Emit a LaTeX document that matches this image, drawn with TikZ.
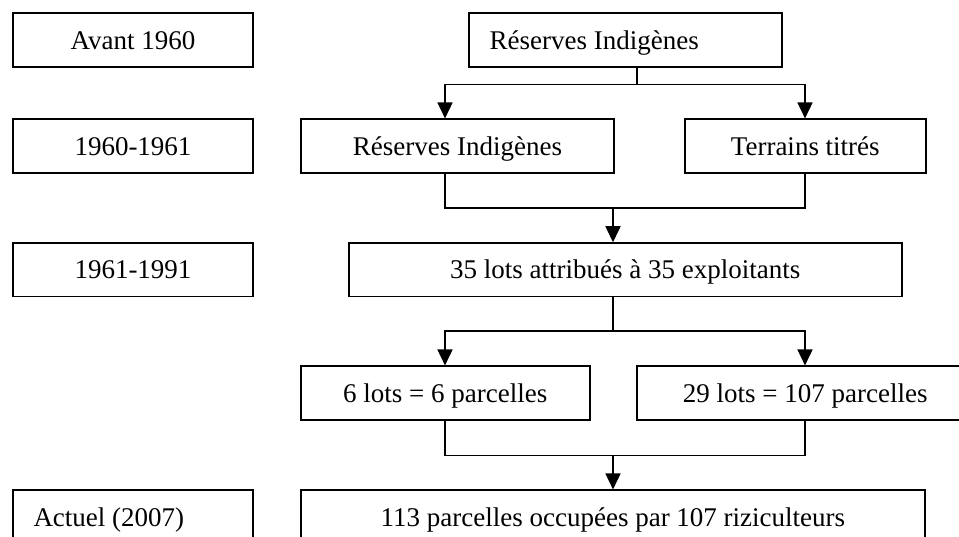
\documentclass[tikz,border=0pt]{standalone}
\usepackage{fontspec}
\setmainfont{Liberation Serif}
\usetikzlibrary{arrows.meta}

\tikzset{
  box/.style={draw, line width=1.7pt, rectangle, inner sep=0pt,
    minimum height=53.4pt, text height=18.2pt, text depth=0pt},
  leftbox/.style={box, align=flush left, inner xsep=20.5pt},
  link/.style={line width=1.6pt},
  arr/.style={link, -{Triangle[length=16pt, width=15pt]}},
}

\begin{document}
\begin{tikzpicture}[x=1pt, y=-1pt,
    font=\fontsize{27}{30}\selectfont]
  \useasboundingbox (0,0) rectangle (959,537);
  \fill[white] (0,0) rectangle (959,537);
  \clip (0,0) rectangle (959,537);

  % period labels (left column)
  \node[box, minimum width=240pt] (avant)  at (133,40)    {Avant 1960};
  \node[box, minimum width=240pt] (p1960)  at (133,146)   {1960-1961};
  \node[box, minimum width=240pt] (p1961)  at (133,269.8) {1961-1991};
  \node[leftbox, text width=199pt] (actuel) at (133,517)  {Actuel (2007)};

  % land status boxes
  \node[leftbox, inner xsep=21pt, text width=271pt] (ri0) at (625.2,40) {Réserves Indigènes};
  \node[box, minimum width=313.3pt] (ri1)  at (457.4,146)   {Réserves Indigènes};
  \node[box, minimum width=240.7pt] (tt)   at (805.3,146)   {Terrains titrés};
  \node[box, minimum width=553pt]   (lots) at (625.2,269.8) {35 lots attribués à 35 exploitants};
  \node[box, minimum width=289pt, minimum height=54pt] (p6)  at (445.2,393.3) {6 lots = 6 parcelles};
  \node[box, minimum width=337pt, minimum height=54pt] (p29) at (805.2,393.3) {29 lots = 107 parcelles};
  \node[box, minimum width=624.3pt] (now)  at (612.9,517)   {113 parcelles occupées par 107 riziculteurs};

  % connector columns and junctions
  \coordinate (xl) at (445,0);
  \coordinate (xr) at (805,0);
  \coordinate (s0) at (637,84.7);
  \coordinate (m2) at (613,208);
  \coordinate (s3) at (613,331.3);
  \coordinate (m4) at (613,455.3);

  % before 1960 -> 1960-1961
  \draw[link] (ri0.south -| s0) -- (s0);
  \draw[arr] (s0) -| (ri1.north -| xl);
  \draw[arr] (s0) -| (tt.north -| xr);

  % 1960-1961 -> 1961-1991
  \draw[link] (ri1.south -| xl) |- (m2) -| (tt.south -| xr);
  \draw[arr] (m2) -- (lots.north -| m2);

  % 1961-1991 -> split of the lots
  \draw[link] (lots.south -| s3) -- (s3);
  \draw[arr] (s3) -| (p6.north -| xl);
  \draw[arr] (s3) -| (p29.north -| xr);

  % split of the lots -> today
  \draw[link] (p6.south -| xl) |- (m4) -| (p29.south -| xr);
  \draw[arr] (m4) -- (now.north -| m4);
\end{tikzpicture}
\end{document}
